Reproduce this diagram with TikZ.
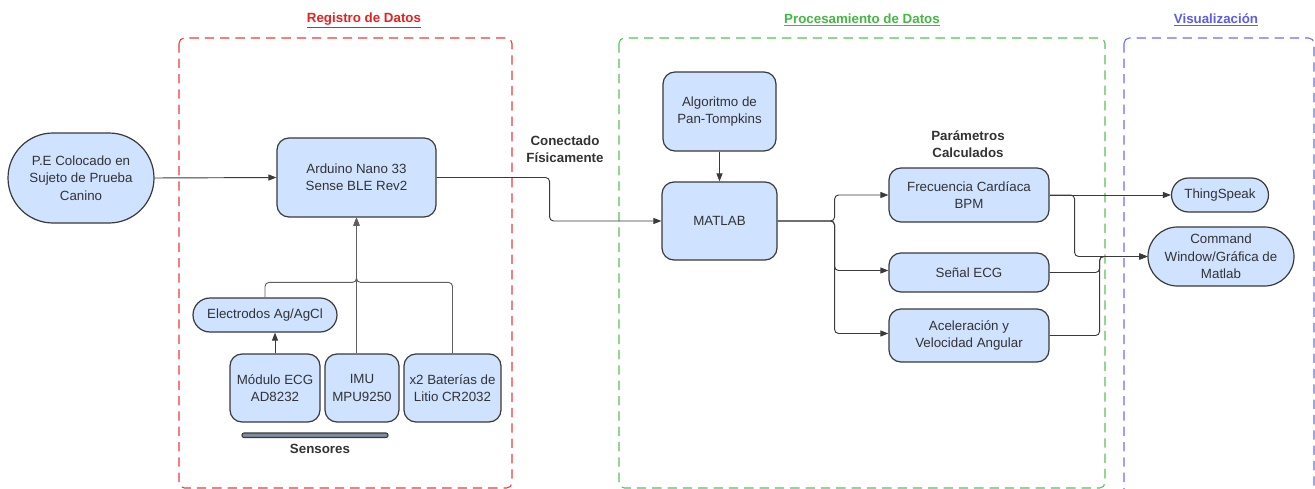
\documentclass[tikz,border=0pt]{standalone}
\usepackage{fontspec}
\setmainfont{Liberation Sans}
\usetikzlibrary{arrows.meta,shapes.misc,calc}
\definecolor{boxfill}{HTML}{CFE2FF}
\definecolor{boxline}{HTML}{3A3A3A}
\definecolor{txt}{HTML}{333333}
\definecolor{conn}{HTML}{3A3A3A}
\definecolor{sconn}{HTML}{888888}
\definecolor{redc}{HTML}{F03A3A}
\definecolor{greenc}{HTML}{55C455}
\definecolor{bluec}{HTML}{6E6EF5}
\definecolor{redt}{HTML}{E82020}
\definecolor{greent}{HTML}{44B844}
\definecolor{bluet}{HTML}{5C5CF0}
\definecolor{barfill}{HTML}{7D8CA0}
\tikzset{
  sz/.style 2 args={minimum width=#1*0.75pt, minimum height=#2*0.75pt},
  basebox/.style={draw=boxline, fill=boxfill, line width=0.9pt, text=txt, align=center,
     inner sep=0pt, font=\fontsize{10}{13}\selectfont},
  rbox/.style={basebox, rectangle, rounded corners=9pt},
  sbox/.style={basebox, rounded rectangle},
  lbl/.style={text=txt, align=center, font=\fontsize{10}{12.5}\selectfont\bfseries},
  ttl/.style={align=center, font=\fontsize{10}{12}\selectfont\bfseries},
  cn/.style={draw=conn, line width=0.7pt, rounded corners=3pt},
  ar/.style={cn, -{Triangle[length=6pt,width=4.5pt]}},
  scn/.style={draw=sconn, line width=0.7pt, rounded corners=3pt},
  sar/.style={scn, -{Triangle[length=6pt,width=4.5pt]}, draw=sconn!70!black},
  grp/.style={line width=0.8pt, rounded corners=4pt, dash pattern=on 7pt off 4.5pt},
}
\begin{document}
\begin{tikzpicture}[x=0.75pt,y=-0.75pt]
\useasboundingbox (0,0) rectangle (1315,489);
\fill[white] (0,0) rectangle (1315,489);
% groups
\draw[grp, draw=redc] (179,38) rectangle (512,488);
\draw[grp, draw=greenc] (619,38) rectangle (1105,488);
\begin{scope}
\clip (0,0) rectangle (1315,489);
\draw[grp, draw=bluec] (1124,38) rectangle (1314,540);
\end{scope}
\node[ttl, text=redt] (t1) at (364,20) {\underline{Registro de Datos}};
\node[ttl, text=greent] (t2) at (862,20) {\underline{Procesamiento de Datos}};
\node[ttl, text=bluet] (t3) at (1216,20) {\underline{Visualización}};
% nodes
\node[sbox, sz={146}{90}] (pe) at (81,178) {P.E Colocado en\\Sujeto de Prueba\\Canino};
\node[rbox, sz={159}{79}] (ard) at (356.5,177.5) {Arduino Nano 33\\Sense BLE Rev2};
\node[sbox, sz={144}{34}] (elec) at (265,315) {Electrodos Ag/AgCl};
\node[rbox, sz={90}{68}] (ecg) at (275,388) {Módulo ECG\\AD8232};
\node[rbox, sz={74}{68}] (imu) at (362,388) {IMU\\MPU9250};
\node[rbox, sz={97}{68}] (bat) at (452.5,388) {x2 Baterías de\\Litio CR2032};
\node[rbox, sz={113}{79}] (alg) at (719.5,111.5) {Algoritmo de\\Pan-Tompkins};
\node[rbox, sz={115}{78}] (mat) at (719.5,221) {MATLAB};
\node[rbox, sz={160}{54}] (frec) at (969,195) {Frecuencia Cardíaca\\BPM};
\node[rbox, sz={160}{39}] (sen) at (969,272.5) {Señal ECG};
\node[rbox, sz={160}{53}] (acel) at (969,335.5) {Aceleración y\\Velocidad Angular};
\node[sbox, sz={97}{34}] (thing) at (1220,195) {ThingSpeak};
\node[sbox, sz={146}{59}] (cmd) at (1221,256.5) {Command\\Window/Gráfica de\\Matlab};
% labels
\node[lbl] (lc) at (565,149) {Conectado\\Físicamente};
\node[lbl] (lp) at (968,144) {Parámetros\\Calculados};
\draw[draw=boxline, fill=barfill, line width=0.8pt, rounded corners=1.5pt] (242,433) rectangle (388,437.5);
\node[lbl] (ls) at (320,449) {Sensores};
% connectors
\draw[ar] (pe.east) -- (ard.west);
\draw[ar] (ard.east) -- ++(113,0) |- (mat.west);
\draw[ar] (alg.south) -- (mat.north);
\draw[ar] (mat.east) -- ++(57,0) |- (frec.west);
\draw[ar] (mat.east) -- ++(57,0) |- ($(sen.west)+(0,-2)$);
\draw[ar] (mat.east) -- ++(57,0) |- ($(acel.west)+(0,-2)$);
\draw[ar] (frec.east) -- (thing.west);
\draw[ar] (frec.east) -- ++(25,0) |- (cmd.west);
\draw[ar] (sen.east) -- ++(50,0) |- (cmd.west);
\draw[ar] (acel.east) -- ++(50,0) |- (cmd.west);
% sensors
\draw[sar] (elec.north) -- ++(0,-15) -| (ard.south);
\draw[sar] (bat.north) -- ++(0,-71) -| (ard.south);
\draw[sar] (imu.north -| ard.south) -- (ard.south);
\draw[ar] (ecg.north) -- (ecg.north |- elec.south);
\end{tikzpicture}
\end{document}
